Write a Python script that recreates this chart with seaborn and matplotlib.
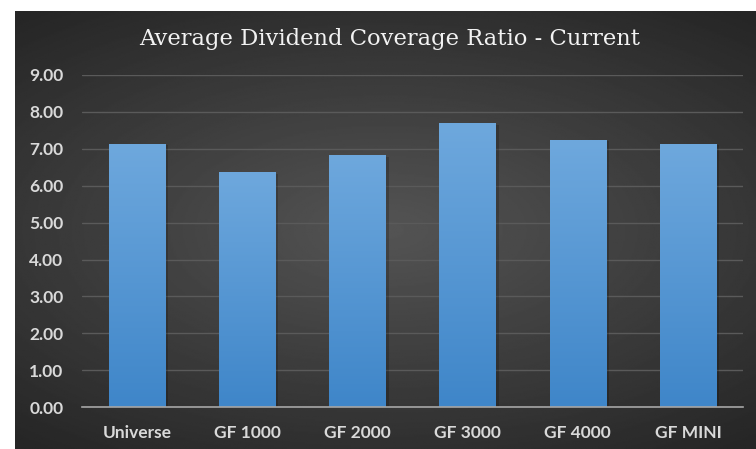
import numpy as np
import pandas as pd
import seaborn as sns
import matplotlib.pyplot as plt
from matplotlib.colors import LinearSegmentedColormap

# Chart values
groups = ["Universe", "GF 1000", "GF 2000", "GF 3000", "GF 4000", "GF MINI"]
coverage = [7.14, 6.38, 6.84, 7.70, 7.25, 7.14]
y_ticks = [0, 1, 2, 3, 4, 5, 6, 7, 8, 9]

df = pd.DataFrame({"Group": groups, "Coverage": coverage})

sns.set_theme(style="dark")
plt.rcParams["font.family"] = ["Lato", "DejaVu Sans"]

fig = plt.figure(figsize=(7.56, 4.49), dpi=100)
fig.patch.set_facecolor("white")

# dark radial background panel
bg = fig.add_axes([0.020, 0.0, 0.980, 0.975])
yy, xx = np.mgrid[-1:1:300j, -1:1:500j]
r = np.sqrt((xx * 0.9) ** 2 + (yy * 1.1) ** 2)
shade = np.clip(0.33 - 0.13 * r, 0.15, 0.33)
bg.imshow(shade, cmap="gray", vmin=0, vmax=1, aspect="auto", extent=[0, 1, 0, 1])
bg.set_axis_off()

ax = fig.add_axes([0.108, 0.093, 0.875, 0.74])
ax.patch.set_alpha(0)
sns.barplot(data=df, x="Group", y="Coverage", color="#5b9bd5", width=0.51,
            saturation=1, linewidth=0, ax=ax)

# vertical gradient on each bar
grad = np.linspace(0, 1, 100).reshape(-1, 1)
bar_cmap = LinearSegmentedColormap.from_list("bar", ["#3f86c9", "#6ea8dd"])
for p in list(ax.patches):
    x0, w, h = p.get_x(), p.get_width(), p.get_height()
    p.set_edgecolor("none")
    # soft shadow
    ax.bar(x0 + w / 2 + 0.03, h, width=w, bottom=-0.05, color="black", alpha=0.18,
           linewidth=0, zorder=1)
    im = ax.imshow(grad, cmap=bar_cmap, aspect="auto", origin="lower",
                   extent=[x0, x0 + w, 0, h], zorder=2)
    im.set_clip_path(p)
    p.set_zorder(2)

ax.set_xlim(-0.5, len(groups) - 0.5)
ax.set_ylim(0, 9)
ax.set_yticks(y_ticks)
ax.set_yticklabels([f"{v:.2f}" for v in y_ticks])
ax.yaxis.grid(True, color="#5a5a5a", linewidth=1)
ax.xaxis.grid(False)
ax.set_axisbelow(True)
for s in ["top", "right", "left"]:
    ax.spines[s].set_visible(False)
ax.spines["bottom"].set_color("#a6a6a6")
ax.spines["bottom"].set_linewidth(1.2)
ax.tick_params(axis="both", length=0, colors="#d9d9d9", labelsize=12.5)
ax.tick_params(axis="y", pad=13)
ax.tick_params(axis="x", pad=13)
for lbl in ax.get_xticklabels() + ax.get_yticklabels():
    lbl.set_fontweight("bold")
ax.set_xlabel("")
ax.set_ylabel("")

fig.text(0.515, 0.913, "Average Dividend Coverage Ratio - Current",
         ha="center", va="center", color="#f2f2f2", fontsize=16.3,
         family=["DejaVu Serif"])

fig.savefig("out.png", dpi=100)
